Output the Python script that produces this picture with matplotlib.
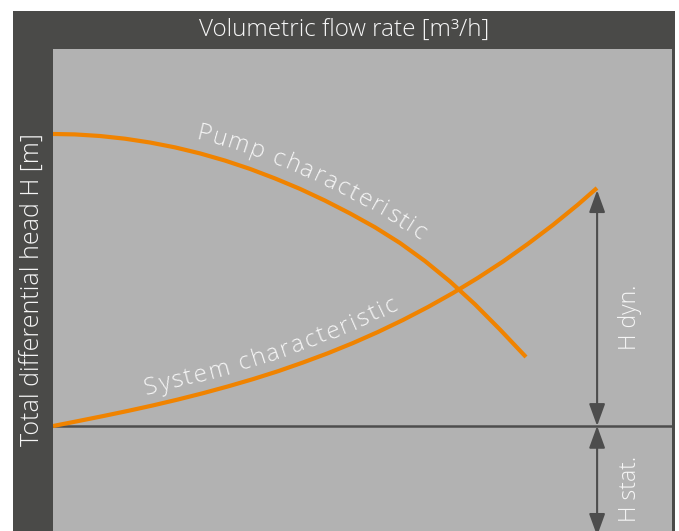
import numpy as np
import matplotlib
matplotlib.use("Agg")
import matplotlib.pyplot as plt
from matplotlib.patches import Rectangle, FancyArrowPatch, ArrowStyle
from matplotlib.font_manager import FontProperties
from matplotlib.transforms import IdentityTransform

# ------------------------------------------------------------
# data (axis units 0..100)
# ------------------------------------------------------------
q_pump = [0, 3.55, 7.59, 11.63, 15.67, 19.71, 23.75, 27.79, 31.83, 35.86,
          39.90, 43.94, 47.98, 52.02, 56.06, 60.10, 64.14, 68.17, 72.21, 76.41]
h_pump = [82.37, 82.28, 81.95, 81.39, 80.60, 79.59, 78.34, 76.85, 75.12, 73.15,
          70.98, 68.55, 65.89, 63.01, 59.75, 56.00, 51.76, 47.03, 41.80, 36.10]

q_sys = [0, 4.04, 8.08, 12.12, 16.16, 20.19, 24.23, 28.27, 32.31, 36.35, 40.39,
         44.43, 48.47, 52.50, 56.54, 60.58, 64.62, 68.66, 72.70, 76.74, 80.78,
         84.81, 87.88]
h_sys = [21.78, 22.80, 23.84, 24.92, 26.06, 27.28, 28.59, 30.00, 31.51, 33.15,
         34.96, 36.89, 39.00, 41.29, 43.78, 46.47, 49.38, 52.53, 55.91, 59.59,
         63.51, 67.72, 71.16]

h_static = 21.8      # static head level
q_arrow = 87.9       # where the H dyn / H stat arrows sit
h_dyn_top = 70.7

title = "Volumetric flow rate [m³/h]"
ylabel = "Total differential head H [m]"

# ------------------------------------------------------------
# style
# ------------------------------------------------------------
DARK = "#4a4a48"
GRAY = "#b2b2b2"
ORANGE = "#f08300"
LINE = "#4d4d4d"
TXT = "#f6f6f6"
FAM = ["Open Sans", "DejaVu Sans"]
plt.rcParams["font.family"] = FAM
plt.rcParams["font.weight"] = "light"

W, H = 679, 531
fig = plt.figure(figsize=(W / 100, H / 100), dpi=100)
fig.patch.set_facecolor("white")

# dark frame around plot area
fig.add_artist(Rectangle((13 / W, 0), 662 / W, 520 / H, transform=fig.transFigure,
                         facecolor=DARK, edgecolor="none", zorder=0))

ax = fig.add_axes([53 / W, 0, 619 / W, 482 / H])
ax.set_facecolor(GRAY)
ax.set_xlim(0, 100)
ax.set_ylim(0, 100)
ax.set_xticks([])
ax.set_yticks([])
for sp in ax.spines.values():
    sp.set_visible(False)

fig.text(344 / W, (H - 30) / H, title, ha="center", va="center",
         fontsize=17.5, color=TXT)
fig.text(33 / W, (H - 290) / H, ylabel, ha="center", va="center",
         rotation=90, fontsize=18, color=TXT)

# static head line
ax.axhline(h_static, color=LINE, lw=1.8, zorder=2)

# curves
ax.plot(q_pump, h_pump, color=ORANGE, lw=3, solid_capstyle="butt",
        solid_joinstyle="round", zorder=3)
ax.plot(q_sys, h_sys, color=ORANGE, lw=3, solid_capstyle="butt",
        solid_joinstyle="round", zorder=3)

# arrows
style = ArrowStyle("<|-|>", head_length=13.5, head_width=4.9)
ax.add_patch(FancyArrowPatch((q_arrow, h_static), (q_arrow, h_dyn_top),
                             arrowstyle=style, mutation_scale=1, color=LINE,
                             lw=1.5, shrinkA=0, shrinkB=0, zorder=2))
ax.add_patch(FancyArrowPatch((q_arrow, h_static), (q_arrow, -1.0),
                             arrowstyle=style, mutation_scale=1, color=LINE,
                             lw=1.5, shrinkA=0, shrinkB=0, zorder=2))

ax.text(93.2, 44.4, "H dyn.", rotation=90, ha="center", va="center",
        fontsize=16.5, color=TXT)
ax.text(93.2, 8.7, "H stat.", rotation=90, ha="center", va="center",
        fontsize=16.5, color=TXT)


# ------------------------------------------------------------
# text that bends along a curve
# ------------------------------------------------------------
def text_on_curve(ax, xs, ys, text, q_start, offset, size, track=0.0):
    r = ax.figure.canvas.get_renderer()
    fp = FontProperties(family=FAM, weight="light", size=size)
    pts = ax.transData.transform(np.column_stack([xs, ys]))
    d = np.diff(pts, axis=0)
    seg = np.hypot(d[:, 0], d[:, 1])
    nrm = np.column_stack([-d[:, 1], d[:, 0]]) / seg[:, None]
    vn = np.vstack([nrm[:1], (nrm[:-1] + nrm[1:]) / 2, nrm[-1:]])
    vn /= np.hypot(vn[:, 0], vn[:, 1])[:, None]
    op = pts + offset * vn
    od = np.diff(op, axis=0)
    s = np.concatenate([[0], np.cumsum(np.hypot(od[:, 0], od[:, 1]))])
    x0 = ax.transData.transform((q_start, 0))[0]
    s0 = np.interp(x0, op[:, 0], s)
    wI = r.get_text_width_height_descent("I", fp, ismath=False)[0]
    for i, ch in enumerate(text):
        left = r.get_text_width_height_descent(text[:i] + "I", fp, ismath=False)[0] - wI
        wc = r.get_text_width_height_descent(ch + "I", fp, ismath=False)[0] - wI
        sc = s0 + left + wc / 2 + track * i
        x = np.interp(sc, s, op[:, 0])
        y = np.interp(sc, s, op[:, 1])
        k = int(np.clip(np.searchsorted(s, sc) - 1, 0, len(od) - 1))
        ang = np.degrees(np.arctan2(od[k, 1], od[k, 0]))
        ax.text(x, y, ch, transform=IdentityTransform(), rotation=ang,
                rotation_mode="anchor", ha="center", va="baseline",
                fontproperties=fp, color=TXT, zorder=4)


text_on_curve(ax, q_pump, h_pump, "Pump characteristic", 23.0, 13, 17.5, track=1.8)
text_on_curve(ax, q_sys, h_sys, "System characteristic", 15.0, 12, 17.5, track=1.9)

fig.savefig("out.png", dpi=100)
